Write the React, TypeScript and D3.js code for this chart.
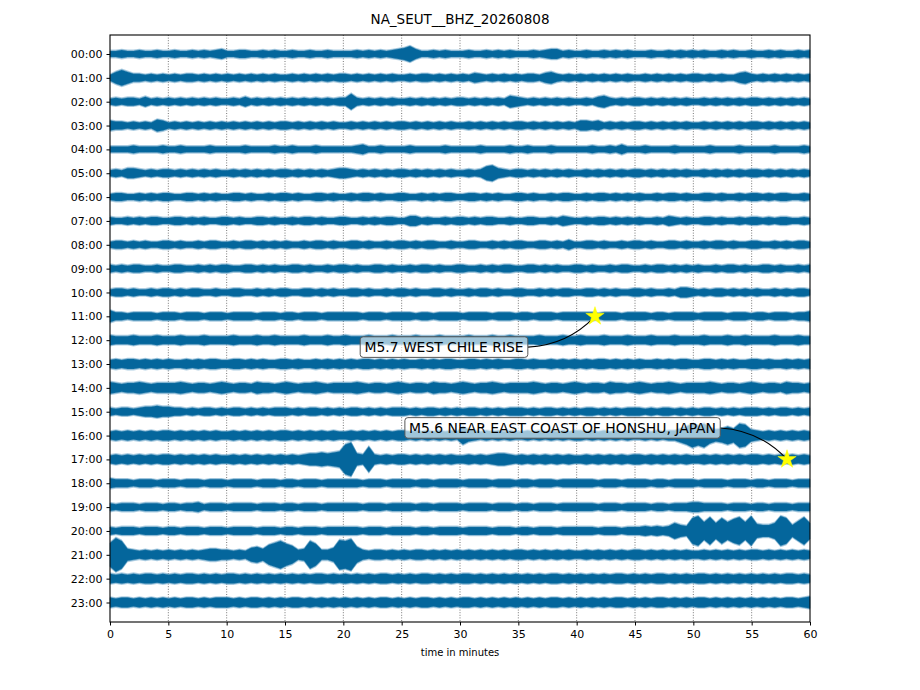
import React, { useRef, useEffect } from 'react';
import * as d3 from 'd3';

const TITLE = 'NA_SEUT__BHZ_20260808';
const X_LABEL = 'time in minutes';

const hourLabels = [
    '00:00', '01:00', '02:00', '03:00', '04:00', '05:00', '06:00', '07:00',
    '08:00', '09:00', '10:00', '11:00', '12:00', '13:00', '14:00', '15:00',
    '16:00', '17:00', '18:00', '19:00', '20:00', '21:00', '22:00', '23:00',
];
const minuteTicks = [0, 5, 10, 15, 20, 25, 30, 35, 40, 45, 50, 55, 60];
const gridMinutes = [5, 10, 15, 20, 25, 30, 35, 40, 45, 50, 55];

// half-amplitude envelope of each hourly trace, one base-36 digit per 30 s (120 per hour)
const traceEnvelopes = [
    '3343343343 3433434345 3344334343 3433433433 3343434345 6853343433 3433434343 3343455343 3433434343 3343343434 3433434334 3343433434',
    '3686443434 3434434343 4343434343 3434343434 4343434343 3434434343 4354343434 3443564343 4343434343 3434343434 4343433564 3434343434',
    '3434435343 4343434343 3435343434 3434343434 4843434343 3434343434 4343434365 4343434343 3435643434 4343434343 3434343434 4343434343',
    '5443434365 3434343434 3434343434 4343434343 3434343434 4343434343 3434343434 4343434343 5545343434 4343434343 3434343434 4343434343',
    '3333433334 3343333433 3334333343 3433343333 3345334333 3433333433 3334333343 3433343333 3343343533 3433334333 3343333433 3334333343',
    '3435543434 4343434343 3434343434 4343434345 5434343434 4343434343 3434785434 4343434343 3434343434 4343434343 3434343434 4343434343',
    '3443343434 4334434343 3443433434 4343344343 3434434334 4334343443 3443434334 4343343443 3434434343 4334344343 3443433434 4343443343',
    '4334343443 3443434334 4343344343 3434434334 4334343443 3553433434 4343443343 3443343543 3434434343 4334354343 3443433434 4343443343',
    '3443434334 4343343443 3434434343 4334344343 3443433434 4343443343 3443343434 4334434353 3443433434 4343344343 3434434334 4334343443',
    '4343443343 3443343434 4334434343 3443433434 4343344343 3434434334 4334343443 3443434334 4343343443 3434434343 4334344343 3443433434',
    '3443433434 4343443343 3443343434 4334434343 3443433434 4343344343 3434434334 4334343443 3443434334 4343343554 3434434343 4334343443',
    '6443444434 4434443444 3444434443 4434443444 4443444344 4434434444 3444434443 4434443444 4443444344 4434434444 3444434443 4434443445',
    '5444544454 4454445444 4544454454 4445444544 5444544454 4454445444 4544454454 4445444544 5444544454 4454445444 4544454454 4445444544',
    '4545545454 5445454554 4554545445 5454454545 4545545454 5445454554 4554545445 5454454545 4545545454 5445454554 4554545445 5454454545',
    '6545565455 5565455456 5455465545 6545565455 5565455456 5455465545 6545565455 5565455456 5455465545 6545565455 5565455456 5455465545',
    '4344345565 5443434434 3443434344 4343443434 3443434344 4343443434 3443434344 4343443434 3443434344 4343443434 3443434344 4343443434',
    '4545454545 5454545454 4545454545 5454545454 4545454545 5454545454 9654545454 4545454545 5454545454 454545579c ac86797cb6 5454545454',
    '4545454545 5454545454 4545454545 4545667678 fh65d54545 5454545454 4545456654 5454545454 4545454545 5454545454 4545454545 5454545454',
    '5444344434 4434443444 3444434443 4434443444 4443444344 4434434444 3444434443 4434443444 4443444344 4434434444 3444434443 4434443444',
    '4344434443 4434453444 3444434443 4434443444 4443444344 4434434444 3444434443 4434443444 4443444344 4434434445 5444434443 4434443444',
    '4344434443 4434443444 3444434443 4434443444 4443444344 4434434444 3444434443 4434443444 4443444344 454545865d f9e8d9ce9f 7668fd6ae8',
    'che6545454 5454545665 5454786ace b956eb557f eg85455454 5455454545 4545454545 5454545454 4545454545 5454545454 4545454545 5454545454',
    '5454545545 4545545454 5545454545 4545455454 5454545545 4545545454 5545454545 4545455454 5454545545 4545545454 5545454545 4545455454',
    '5455454545 4545545455 5454554545 4554545454 5454545545 4545545454 5545454545 4545455454 5454545545 4545545454 5545454545 4545455456',
];

// catalogue events: minute of day, label text, label anchor (minute, row)
const eventNames = ['M5.7 WEST CHILE RISE', 'M5.6 NEAR EAST COAST OF HONSHU, JAPAN'];
const eventMinuteOfDay = [701.57, 1078.03];
const eventLabelMinute = [28.63, 38.79];
const eventLabelRow = [12.29, 15.68];

const App: React.FC = () => {
    const svgRef = useRef<SVGSVGElement>(null);
    const width = 920;
    const height = 690;

    useEffect(() => {
        if (!svgRef.current) return;
        const svg = d3.select(svgRef.current);
        svg.selectAll('*').remove();

        const font = 'DejaVu Sans, sans-serif';
        const left = 110, right = 810, top = 35, bottom = 622;

        const xScale = d3.scaleLinear().domain([0, 60]).range([left, right]);
        const yScale = d3.scaleLinear().domain([0, 23]).range([54, 602.5]);
        const rowStep = yScale(1) - yScale(0);
        // 24 counts = one row spacing
        const ampScale = d3.scaleLinear().domain([0, 24]).range([0, rowStep]);

        svg.append('rect').attr('width', width).attr('height', height).attr('fill', '#ffffff');

        // dotted minute grid
        svg.append('g')
            .selectAll('line')
            .data(gridMinutes)
            .join('line')
            .attr('x1', d => xScale(d))
            .attr('x2', d => xScale(d))
            .attr('y1', top)
            .attr('y2', bottom)
            .attr('stroke', '#555')
            .attr('stroke-width', 0.8)
            .attr('stroke-dasharray', '1,1.6');

        // traces: light fringe (peaks) under the dense core
        const traces = svg.append('g');
        traceEnvelopes.forEach((raw, row) => {
            const env = raw.replace(/\s/g, '').split('').map(c => parseInt(c, 36));
            const n = env.length;
            const fringe = d3.area<number>()
                .x((_, i) => xScale((i * 60) / (n - 1)))
                .y0(d => yScale(row) - ampScale(d) - 1.4)
                .y1(d => yScale(row) + ampScale(d) + 1.4);
            const core = d3.area<number>()
                .x((_, i) => xScale((i * 60) / (n - 1)))
                .y0(d => yScale(row) - ampScale(d))
                .y1(d => yScale(row) + ampScale(d));
            traces.append('path')
                .datum(env)
                .attr('d', fringe)
                .attr('fill', '#4d93bf')
                .attr('fill-opacity', 0.45);
            traces.append('path')
                .datum(env)
                .attr('d', core)
                .attr('fill', '#04669c')
                .attr('stroke', '#2a7fad')
                .attr('stroke-width', 0.5);
        });

        // frame
        svg.append('rect')
            .attr('x', left).attr('y', top)
            .attr('width', right - left).attr('height', bottom - top)
            .attr('fill', 'none').attr('stroke', '#000').attr('stroke-width', 1.1);

        // axes
        const yAxis = d3.axisLeft(yScale)
            .tickValues(d3.range(hourLabels.length))
            .tickFormat(d => hourLabels[d as number])
            .tickSize(3.5)
            .tickPadding(4);
        const yg = svg.append('g').attr('transform', `translate(${left},0)`).call(yAxis);
        yg.select('.domain').remove();
        yg.attr('font-family', font).attr('font-size', 11);
        yg.selectAll('line').attr('stroke', '#000');
        yg.selectAll('text').attr('fill', '#000');

        const xAxis = d3.axisBottom(xScale)
            .tickValues(minuteTicks)
            .tickFormat(d => String(d))
            .tickSize(3.5)
            .tickPadding(5);
        const xg = svg.append('g').attr('transform', `translate(0,${bottom})`).call(xAxis);
        xg.select('.domain').remove();
        xg.attr('font-family', font).attr('font-size', 11);
        xg.selectAll('line').attr('stroke', '#000');
        xg.selectAll('text').attr('fill', '#000');

        svg.append('text')
            .attr('x', (left + right) / 2).attr('y', 655.5)
            .attr('text-anchor', 'middle')
            .attr('font-family', font).attr('font-size', 10)
            .text(X_LABEL);

        svg.append('text')
            .attr('x', (left + right) / 2).attr('y', 24)
            .attr('text-anchor', 'middle')
            .attr('font-family', font).attr('font-size', 13.5)
            .text(TITLE);

        // event annotations
        const annot = svg.append('g');
        eventNames.forEach((name, i) => {
            const row = Math.floor(eventMinuteOfDay[i] / 60);
            const minute = eventMinuteOfDay[i] - row * 60;
            const sx = xScale(minute);
            const sy = yScale(row);
            const lx = xScale(eventLabelMinute[i]);
            const ly = yScale(eventLabelRow[i]);

            const box = annot.append('g');
            const rect = box.append('rect');
            const txt = box.append('text')
                .attr('x', lx).attr('y', ly)
                .attr('text-anchor', 'middle')
                .attr('dominant-baseline', 'central')
                .attr('font-family', font).attr('font-size', 13.9)
                .attr('fill', '#000')
                .text(name);
            const w = (txt.node() as SVGTextElement).getComputedTextLength();
            const pad = 4.2;
            rect.attr('x', lx - w / 2 - pad).attr('y', ly - 10.3)
                .attr('width', w + 2 * pad).attr('height', 20.6)
                .attr('rx', 3).attr('ry', 3)
                .attr('fill', '#ffffff').attr('fill-opacity', 0.62)
                .attr('stroke', '#555').attr('stroke-width', 1);

            // arc3-style connector from the box edge to the event star
            const x1 = lx + w / 2 + pad, y1 = ly;
            const dx = sx - x1, dy = sy - y1;
            const mx = (x1 + sx) / 2, my = (y1 + sy) / 2;
            const f = 0.2;
            const cA = [mx - f * dy, my + f * dx];
            const cB = [mx + f * dy, my - f * dx];
            const c = Math.abs(cA[1] - y1) < Math.abs(cB[1] - y1) ? cA : cB;
            const p = d3.path();
            p.moveTo(x1, y1);
            p.quadraticCurveTo(c[0], c[1], sx, sy);
            annot.insert('path', ':first-child')
                .attr('d', p.toString())
                .attr('fill', 'none')
                .attr('stroke', '#000')
                .attr('stroke-width', 1.1);

            annot.append('path')
                .attr('d', d3.symbol(d3.symbolStar, 105)())
                .attr('transform', `translate(${sx},${sy})`)
                .attr('fill', '#ffff00')
                .attr('stroke', '#ffff00')
                .attr('stroke-width', 0.5);
        });
    }, []);

    return (
        <svg
            ref={svgRef}
            width={width}
            height={height}
            viewBox={`0 0 ${width} ${height}`}
            style={{ position: 'absolute', left: 0, top: 0 }}
        />
    );
};

export default App;
